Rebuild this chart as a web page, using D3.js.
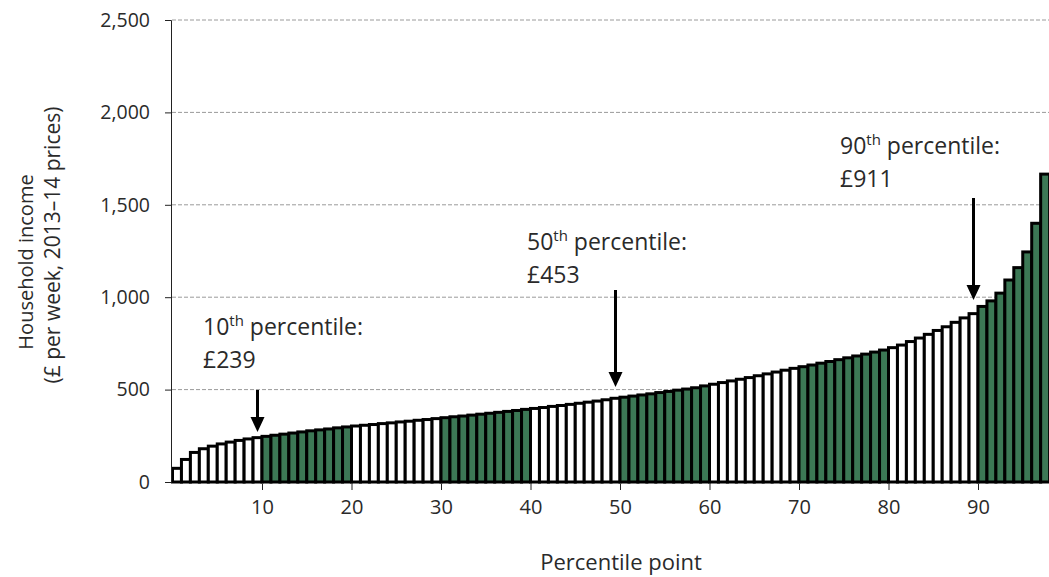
<!DOCTYPE html>
<html>
<head>
<meta charset="utf-8">
<script src="https://cdn.jsdelivr.net/npm/d3@7"></script>
<style>
  html, body { margin: 0; padding: 0; background: #fff; }
  svg { display: block; }
  text { font-family: "Open Sans", "Noto Sans", sans-serif; fill: #2a2a2a; }
</style>
</head>
<body>
<svg id="chart" width="1049" height="577"></svg>
<script>
// Data
const percentiles = d3.range(1, 99);
const incomes = [
  74, 122, 160, 180, 194, 206, 216, 225, 233, 240,
  247, 253, 259, 265, 271, 277, 282, 287, 293, 298,
  303, 307, 311, 316, 320, 325, 329, 334, 338, 343,
  348, 353, 357, 362, 367, 372, 377, 382, 387, 393,
  398, 403, 409, 414, 420, 426, 432, 438, 445, 453,
  459, 465, 471, 477, 484, 490, 497, 503, 510, 520,
  529, 538, 547, 556, 565, 575, 585, 595, 605, 615,
  624, 633, 643, 652, 662, 672, 682, 692, 703, 714,
  727, 741, 760, 779, 799, 820, 840, 864, 888, 911,
  950, 980, 1022, 1093, 1160, 1245, 1400, 1666
];
const yTicks = [0, 500, 1000, 1500, 2000, 2500];
const xTicks = [10, 20, 30, 40, 50, 60, 70, 80, 90];
const annotations = [
  { pct: 10, value: 239, ord: "th" },
  { pct: 50, value: 453, ord: "th" },
  { pct: 90, value: 911, ord: "th" }
];

const svg = d3.select("#chart");
const W = 1049, H = 577;
const x = d3.scaleLinear().domain([0, 100]).range([172.5, 1067.5]);
const y = d3.scaleLinear().domain([0, 2500]).range([482, 20]);

// gridlines
svg.append("g")
  .selectAll("line")
  .data(yTicks.filter(d => d > 0))
  .join("line")
  .attr("x1", 172).attr("x2", W)
  .attr("y1", d => y(d)).attr("y2", d => y(d))
  .attr("stroke", "#9a9a9a")
  .attr("stroke-width", 1)
  .attr("stroke-dasharray", "4,2");

// bars
const green = "#3c7855";
svg.append("g")
  .selectAll("rect")
  .data(percentiles)
  .join("rect")
  .attr("x", d => x(d - 1))
  .attr("width", d => x(d) - x(d - 1))
  .attr("y", (d, i) => y(incomes[i]))
  .attr("height", (d, i) => y(0) - y(incomes[i]))
  .attr("fill", d => (Math.floor((d - 1) / 10) % 2 === 1) ? green : "#fff")
  .attr("stroke", "#000")
  .attr("stroke-width", 3);

// y axis
const yAxis = svg.append("g")
  .attr("transform", `translate(171,0)`)
  .call(d3.axisLeft(y).tickValues(yTicks).tickSize(6).tickPadding(15)
    .tickFormat(d3.format(",")));
yAxis.select(".domain").attr("stroke", "#222").attr("stroke-width", 1);
yAxis.selectAll(".tick line").attr("stroke", "#222");
yAxis.selectAll("text").style("font-size", "19.5px").attr("fill", "#2a2a2a");

// x axis
const xAxis = svg.append("g")
  .attr("transform", `translate(0,484)`)
  .call(d3.axisBottom(x).tickValues(xTicks).tickSize(6).tickPadding(10));
xAxis.select(".domain").remove();
xAxis.selectAll(".tick line").attr("stroke", "#222");
xAxis.selectAll("text").style("font-size", "20px").attr("fill", "#2a2a2a");

// axis titles
svg.append("text")
  .attr("x", 621).attr("y", 570)
  .attr("text-anchor", "middle")
  .style("font-size", "22px")
  .text("Percentile point");

svg.append("text")
  .attr("transform", `translate(33,262) rotate(-90)`)
  .attr("text-anchor", "middle")
  .style("font-size", "20px")
  .text("Household income");
svg.append("text")
  .attr("transform", `translate(60,245) rotate(-90)`)
  .attr("text-anchor", "middle")
  .style("font-size", "21px")
  .text("(£ per week, 2013–14 prices)");

// annotations
const annLayout = {
  10: { tx: 203, ty: 335, a1: 390, a2: 432 },
  50: { tx: 527, ty: 250, a1: 290, a2: 387 },
  90: { tx: 840, ty: 154, a1: 198, a2: 300 }
};
annotations.forEach(a => {
  const L = annLayout[a.pct];
  const t = svg.append("text")
    .attr("x", L.tx).attr("y", L.ty)
    .style("font-size", "23px");
  t.append("tspan").text(a.pct);
  t.append("tspan").attr("dy", -9).style("font-size", "15px").text(a.ord);
  t.append("tspan").attr("dy", 9).text(" percentile:");
  svg.append("text")
    .attr("x", L.tx).attr("y", L.ty + 33)
    .style("font-size", "23px")
    .text("£" + a.value);

  const ax = x(a.pct - 0.5);
  svg.append("line")
    .attr("x1", ax).attr("x2", ax)
    .attr("y1", L.a1).attr("y2", L.a2 - 12)
    .attr("stroke", "#000").attr("stroke-width", 3);
  svg.append("path")
    .attr("d", `M${ax - 7},${L.a2 - 15} L${ax + 7},${L.a2 - 15} L${ax},${L.a2} Z`)
    .attr("fill", "#000");
});
</script>
</body>
</html>
